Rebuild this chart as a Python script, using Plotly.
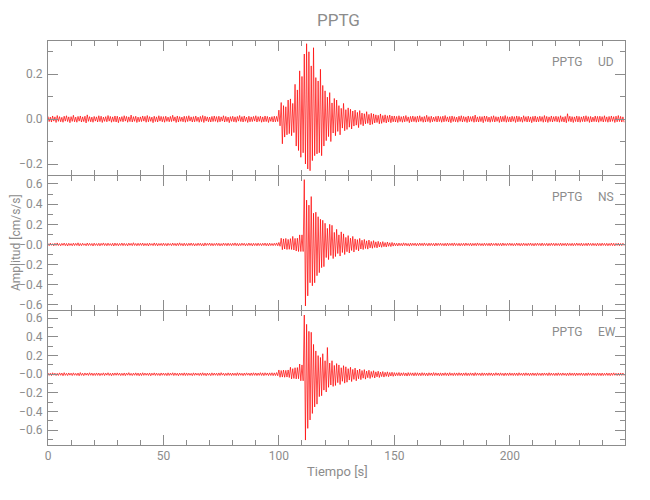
import numpy as np
import plotly.graph_objects as go
from plotly.subplots import make_subplots

# ---------------- data (thousandths of cm/s/s) ----------------
# per-second upper / lower envelope, t = 0..249 s
SECONDS = list(range(250))

UD_HI = [
    12, 9, 14, 10, 16, 11, 8, 13, 15, 10,
    11, 17, 9, 12, 14, 10, 13, 19, 11, 9,
    12, 10, 15, 13, 9, 11, 16, 12, 10, 14,
    13, 9, 11, 15, 12, 10, 18, 11, 13, 9,
    10, 14, 12, 16, 11, 9, 13, 10, 15, 12,
    11, 13, 9, 12, 17, 10, 14, 11, 9, 13,
    12, 15, 10, 11, 14, 9, 12, 16, 13, 10,
    9, 12, 14, 11, 13, 10, 15, 12, 9, 11,
    13, 10, 12, 16, 11, 14, 9, 13, 10, 12,
    15, 11, 13, 10, 14, 12, 9, 11, 13, 12,
    40, 74, 60, 55, 85, 90, 70, 155, 130, 215,
    190, 290, 336, 300, 237, 318, 185, 170, 222, 150,
    126, 98, 118, 72, 92, 85, 60, 48, 70, 42,
    50, 44, 36, 40, 30, 38, 27, 24, 33, 21,
    26, 23, 19, 17, 23, 16, 19, 15, 18, 14,
    14, 12, 15, 11, 13, 16, 10, 12, 14, 11,
    13, 15, 10, 12, 17, 11, 13, 9, 12, 14,
    11, 13, 16, 10, 12, 14, 11, 9, 13, 15,
    12, 10, 14, 11, 13, 18, 10, 12, 11, 14,
    13, 9, 12, 15, 11, 10, 13, 12, 16, 11,
    10, 13, 11, 14, 12, 9, 15, 11, 13, 10,
    12, 14, 10, 13, 11, 16, 12, 10, 14, 11,
    13, 11, 15, 10, 12, 24, 13, 11, 10, 14,
    12, 10, 13, 15, 11, 12, 9, 14, 12, 13,
    11, 15, 10, 12, 14, 11, 13, 16, 12, 10,
]
UD_LO = [
    -11, -13, -9, -15, -10, -12, -14, -9, -11, -16,
    -10, -12, -14, -9, -13, -11, -17, -10, -12, -14,
    -9, -13, -11, -15, -10, -12, -9, -14, -11, -13,
    -16, -10, -12, -9, -14, -11, -13, -10, -15, -12,
    -11, -9, -14, -12, -10, -16, -11, -13, -9, -12,
    -14, -10, -12, -11, -9, -15, -13, -10, -12, -14,
    -11, -9, -13, -12, -10, -14, -11, -15, -9, -12,
    -13, -11, -10, -14, -12, -9, -13, -11, -16, -10,
    -12, -14, -9, -11, -13, -10, -15, -12, -11, -9,
    -13, -10, -14, -12, -11, -15, -10, -13, -12, -11,
    -30, -110, -80, -70, -65, -74, -60, -120, -140, -170,
    -150, -200, -222, -230, -185, -163, -155, -150, -163, -120,
    -96, -78, -100, -62, -74, -55, -70, -40, -52, -46,
    -36, -44, -31, -27, -38, -24, -30, -21, -19, -26,
    -23, -17, -15, -21, -19, -14, -17, -13, -16, -12,
    -13, -15, -11, -14, -12, -10, -16, -12, -11, -14,
    -12, -10, -14, -13, -11, -15, -12, -10, -13, -11,
    -14, -12, -10, -13, -16, -11, -12, -14, -10, -13,
    -11, -15, -12, -10, -14, -12, -13, -11, -16, -10,
    -12, -14, -11, -13, -10, -15, -12, -11, -14, -12,
    -13, -10, -15, -12, -11, -14, -10, -13, -12, -16,
    -11, -13, -12, -10, -14, -12, -15, -11, -13, -10,
    -12, -14, -11, -13, -16, -10, -12, -15, -11, -13,
    -14, -11, -12, -10, -15, -13, -11, -12, -14, -10,
    -13, -11, -14, -12, -10, -15, -12, -11, -13, -14,
]

NS_HI = [
    10, 13, 8, 12, 15, 9, 11, 14, 10, 12,
    9, 13, 11, 16, 10, 12, 8, 14, 11, 10,
    13, 9, 12, 11, 15, 10, 13, 9, 12, 14,
    11, 10, 14, 12, 9, 13, 11, 17, 10, 12,
    12, 14, 10, 11, 13, 9, 15, 12, 10, 11,
    13, 10, 12, 9, 14, 11, 12, 16, 10, 13,
    10, 12, 14, 11, 9, 13, 12, 10, 15, 11,
    14, 11, 10, 13, 12, 9, 14, 11, 13, 10,
    12, 15, 11, 10, 13, 12, 9, 14, 11, 12,
    11, 13, 10, 12, 14, 11, 13, 10, 12, 15,
    20, 62, 55, 60, 50, 58, 80, 60, 62, 95,
    95, 643, 440, 390, 475, 310, 320, 275, 250, 240,
    210, 160, 200, 190, 120, 150, 95, 125, 105, 70,
    88, 62, 80, 55, 48, 60, 42, 50, 36, 44,
    30, 38, 26, 31, 22, 28, 19, 24, 17, 20,
    15, 12, 14, 11, 16, 13, 10, 14, 12, 13,
    11, 14, 12, 15, 10, 13, 12, 11, 14, 12,
    13, 10, 12, 14, 11, 13, 15, 10, 12, 11,
    12, 14, 10, 13, 11, 12, 15, 11, 10, 13,
    11, 12, 14, 10, 13, 11, 12, 14, 10, 12,
    13, 11, 10, 14, 12, 11, 13, 10, 12, 14,
    10, 12, 13, 11, 14, 10, 12, 11, 13, 12,
    12, 10, 14, 11, 12, 13, 10, 12, 11, 14,
    11, 13, 10, 12, 14, 11, 12, 10, 13, 11,
    13, 11, 12, 10, 14, 12, 11, 13, 10, 12,
]
NS_LO = [
    -12, -9, -14, -10, -11, -13, -9, -12, -15, -10,
    -13, -11, -10, -14, -12, -9, -13, -11, -10, -15,
    -10, -12, -14, -9, -11, -13, -10, -12, -15, -11,
    -13, -10, -12, -11, -14, -9, -12, -10, -13, -11,
    -10, -13, -11, -15, -9, -12, -11, -14, -10, -12,
    -11, -14, -9, -12, -10, -13, -11, -10, -14, -12,
    -13, -10, -11, -14, -12, -10, -13, -15, -11, -9,
    -12, -13, -10, -11, -14, -12, -10, -13, -11, -12,
    -10, -12, -14, -11, -9, -13, -12, -10, -14, -11,
    -13, -11, -12, -10, -13, -14, -11, -12, -10, -13,
    -18, -52, -45, -50, -48, -50, -55, -65, -70, -70,
    -70, -610, -510, -380, -410, -380, -310, -280, -230, -220,
    -130, -150, -110, -140, -120, -90, -115, -80, -100, -72,
    -85, -60, -75, -52, -64, -45, -50, -40, -46, -34,
    -38, -30, -34, -25, -28, -22, -25, -18, -21, -16,
    -13, -15, -12, -14, -11, -13, -16, -12, -10, -14,
    -12, -11, -13, -10, -14, -12, -11, -15, -12, -10,
    -11, -13, -14, -12, -10, -13, -11, -12, -14, -11,
    -13, -10, -12, -14, -11, -13, -10, -12, -13, -11,
    -12, -14, -11, -10, -13, -12, -14, -11, -12, -10,
    -11, -13, -12, -10, -14, -12, -11, -13, -10, -12,
    -14, -11, -10, -13, -12, -11, -14, -12, -10, -13,
    -11, -12, -13, -10, -14, -11, -12, -13, -11, -10,
    -12, -14, -11, -13, -10, -12, -11, -14, -12, -13,
    -10, -12, -13, -11, -12, -14, -10, -13, -12, -11,
]

EW_HI = [
    14, 11, 16, 12, 10, 15, 13, 17, 11, 14,
    12, 15, 10, 13, 18, 11, 14, 12, 16, 13,
    11, 14, 13, 10, 15, 12, 16, 11, 13, 14,
    15, 12, 11, 14, 13, 17, 10, 12, 15, 13,
    12, 16, 13, 11, 14, 12, 15, 13, 10, 14,
    13, 11, 15, 12, 16, 14, 11, 13, 12, 15,
    14, 12, 10, 15, 13, 11, 14, 16, 12, 13,
    11, 15, 13, 12, 14, 17, 12, 11, 15, 13,
    13, 12, 16, 14, 11, 13, 15, 12, 14, 16,
    14, 13, 17, 15, 16, 14, 15, 16, 15, 18,
    46, 40, 45, 42, 46, 75, 60, 70, 72, 110,
    100, 635, 535, 460, 450, 320, 250, 200, 180, 220,
    145, 287, 120, 145, 95, 115, 100, 70, 92, 80,
    60, 75, 52, 66, 45, 56, 40, 50, 34, 44,
    30, 38, 26, 33, 24, 29, 21, 26, 19, 22,
    18, 16, 19, 15, 17, 14, 18, 16, 15, 17,
    16, 14, 17, 15, 13, 16, 14, 18, 15, 13,
    15, 13, 16, 14, 17, 12, 15, 14, 16, 13,
    14, 16, 12, 15, 13, 17, 14, 12, 15, 14,
    13, 15, 14, 12, 16, 13, 15, 11, 14, 13,
    15, 12, 14, 13, 16, 11, 14, 15, 12, 13,
    14, 12, 15, 11, 13, 14, 12, 16, 13, 11,
    13, 15, 12, 14, 11, 13, 15, 12, 14, 13,
    12, 14, 11, 13, 15, 12, 13, 11, 14, 12,
    13, 11, 14, 12, 13, 15, 11, 12, 14, 13,
]
EW_LO = [
    -12, -15, -10, -14, -13, -11, -16, -12, -14, -10,
    -14, -11, -13, -16, -12, -15, -10, -13, -11, -14,
    -13, -12, -15, -11, -14, -10, -13, -16, -12, -11,
    -11, -14, -13, -15, -10, -12, -14, -11, -13, -16,
    -14, -12, -11, -13, -16, -10, -13, -12, -15, -11,
    -12, -15, -13, -10, -14, -12, -16, -11, -13, -14,
    -13, -11, -15, -12, -10, -14, -13, -12, -16, -11,
    -15, -12, -11, -14, -13, -10, -15, -13, -12, -14,
    -12, -14, -13, -11, -15, -12, -10, -14, -13, -12,
    -14, -12, -13, -15, -11, -14, -13, -15, -14, -16,
    -32, -30, -32, -30, -35, -50, -45, -50, -48, -70,
    -70, -705, -580, -490, -420, -350, -320, -240, -230, -170,
    -190, -140, -115, -130, -120, -90, -110, -75, -95, -85,
    -62, -78, -55, -70, -48, -58, -42, -52, -37, -45,
    -32, -40, -28, -35, -25, -30, -22, -26, -19, -22,
    -17, -15, -18, -14, -16, -19, -15, -13, -17, -15,
    -14, -16, -13, -15, -17, -12, -15, -14, -13, -16,
    -15, -13, -14, -16, -12, -15, -13, -14, -12, -15,
    -13, -15, -14, -12, -16, -13, -11, -15, -14, -12,
    -14, -12, -15, -13, -11, -14, -12, -16, -13, -14,
    -12, -14, -13, -15, -11, -13, -14, -12, -15, -13,
    -13, -15, -12, -14, -13, -11, -15, -13, -12, -14,
    -14, -12, -13, -11, -15, -14, -12, -13, -15, -12,
    -12, -13, -15, -14, -11, -13, -12, -14, -13, -15,
    -14, -12, -13, -15, -12, -11, -14, -13, -12, -14,
]

CHANNELS = ["UD", "NS", "EW"]
STATION = "PPTG"
TITLE = "PPTG"
XLABEL = "Tiempo [s]"
YLABEL = "Amplitud [cm/s/s]"
X_TICKS = [0, 50, 100, 150, 200]

# ---------------- figure ----------------
GRAY = "#8c8c8c"
FONT = "Roboto, Liberation Sans, sans-serif"
RED = "#ff0000"

OFF = 8                      # page body margin of the rendered html
W, H = 642, 492              # figure size (fits in the 650x500 window)
# plot area in page pixels: x 48..625, y 41..445
PX0, PX1, PY0, PY1 = 48, 625, 41, 445
ML, MT = PX0 - OFF, PY0 - OFF
MR = (W + OFF) - PX1
MB = (H + OFF) - PY1
PW, PH = PX1 - PX0, PY1 - PY0


def px_to_paper_x(px):
    return (px - PX0) / PW


def px_to_paper_y(py):
    return (PY1 - py) / PH


fig = make_subplots(rows=3, cols=1, vertical_spacing=0)

sec = np.asarray(SECONDS, dtype=float)
data = {"UD": (UD_HI, UD_LO), "NS": (NS_HI, NS_LO), "EW": (EW_HI, EW_LO)}
for i, ch in enumerate(CHANNELS, start=1):
    hi, lo = data[ch]
    x = np.column_stack([sec, sec + 0.5]).ravel()
    y = np.column_stack([np.asarray(hi), np.asarray(lo)]).ravel() / 1000.0
    fig.add_trace(go.Scatter(x=x, y=y, mode="lines",
                             line=dict(color=RED, width=0.7),
                             showlegend=False, hoverinfo="skip"),
                  row=i, col=1)

tickfont = dict(family=FONT, size=12, color=GRAY)
ax_common = dict(showline=True, linecolor=GRAY, linewidth=1, mirror="ticks",
                 ticks="inside", ticklen=10, tickwidth=1, tickcolor=GRAY,
                 showgrid=False, zeroline=False, tickfont=tickfont,
                 automargin=False)

# panel top / bottom edges in page pixels (1 px offset so the shared
# borders of neighbouring panels fall on the same pixel row)
panel_px = [(41, 175), (176, 310), (311, 445)]
y_ranges = [[-0.249, 0.348], [-0.650, 0.679], [-0.758, 0.678]]
for i in range(3):
    top, bot = panel_px[i]
    dom = [px_to_paper_y(bot), px_to_paper_y(top)]
    yname = "yaxis" if i == 0 else f"yaxis{i+1}"
    xname = "xaxis" if i == 0 else f"xaxis{i+1}"
    fig.layout[yname].update(domain=dom, range=y_ranges[i], tickmode="linear",
                             tick0=0, dtick=0.2, tickformat=".1f",
                             labelalias={} if i == 0 else {"0.0": "\u22120.0"},
                             minor=dict(ticks="inside", ticklen=5, tickcolor=GRAY,
                                        tickwidth=1, dtick=0.1, tick0=0, showgrid=False),
                             ticklabelstandoff=2, **ax_common)
    fig.layout[xname].update(range=[0, 249.9], tickmode="array", tickvals=X_TICKS,
                             showticklabels=(i == 2),
                             minor=dict(ticks="inside", ticklen=5, tickcolor=GRAY,
                                        tickwidth=1, dtick=10, tick0=0, showgrid=False),
                             ticklabelstandoff=0, **ax_common)

annotations = []
lab_font = dict(family=FONT, size=12, color=GRAY)
for i, ch in enumerate(CHANNELS):
    yp = px_to_paper_y(panel_px[i][0] + 21)
    annotations.append(dict(text=STATION, xref="paper", yref="paper",
                            x=px_to_paper_x(584), y=yp, xanchor="right",
                            yanchor="middle", showarrow=False, font=lab_font))
    annotations.append(dict(text=ch, xref="paper", yref="paper",
                            x=px_to_paper_x(596), y=yp, xanchor="left",
                            yanchor="middle", showarrow=False, font=lab_font))

annotations.append(dict(text=XLABEL, xref="paper", yref="paper",
                        x=px_to_paper_x(337), y=px_to_paper_y(471),
                        xanchor="center", yanchor="middle",
                        showarrow=False, font=dict(family=FONT, size=13, color=GRAY)))
annotations.append(dict(text=YLABEL, xref="paper", yref="paper",
                        x=px_to_paper_x(16), y=px_to_paper_y(243),
                        xanchor="center", yanchor="middle", textangle=-90,
                        showarrow=False, font=dict(family=FONT, size=12, color=GRAY)))
annotations.append(dict(text=TITLE, xref="paper", yref="paper",
                        x=px_to_paper_x(338), y=px_to_paper_y(20),
                        xanchor="center", yanchor="middle",
                        showarrow=False, font=dict(family=FONT, size=17, color=GRAY)))

fig.update_layout(
    width=W, height=H, autosize=False,
    margin=dict(l=ML, r=MR, t=MT, b=MB, pad=0),
    paper_bgcolor="white", plot_bgcolor="white",
    annotations=annotations,
)

fig.write_html("out.html")
